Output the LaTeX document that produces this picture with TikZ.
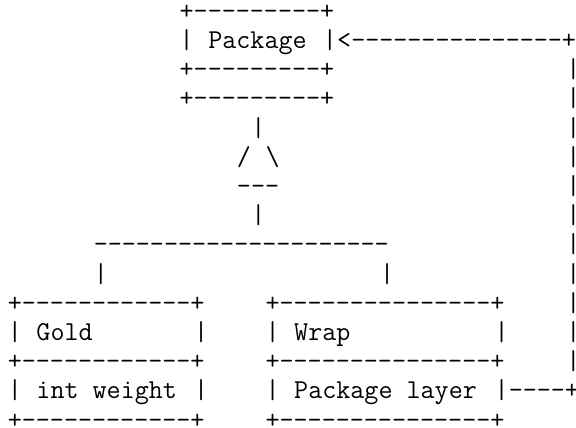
\documentclass[tikz,border=0pt]{standalone}
\usepackage{fontspec}
\begin{document}
\begin{tikzpicture}[x=1pt,y=1pt,
  ascii/.style={anchor=base west, inner sep=0pt, outer sep=0pt,
    font=\ttfamily\fontsize{27.28pt}{29.2pt}\selectfont, text=black}]
% one monospace cell is 14.32 wide, one text row is 29.2 high
\newcommand\glyphs[4]{\node[ascii] (#1) at ({7.84+#2*14.32},{-19.3-#3*29.2}) {#4};}
\useasboundingbox (0,0) rectangle (576,-428);

% Package box (doubled bottom edge)
\glyphs{pkgTop}{12}{0}{+---------+}
\glyphs{pkgLeft}{12}{1}{|}
\glyphs{pkgName}{14}{1}{Package}
\glyphs{pkgRight}{22}{1}{|}
\glyphs{backArrow}{23}{1}{<---------------+}
\glyphs{pkgMid}{12}{2}{+---------+}
\glyphs{pkgBot}{12}{3}{+---------+}

% inheritance triangle
\glyphs{stemA}{17}{4}{|}
\glyphs{triL}{16}{5}{/}
\glyphs{triR}{18}{5}{\textbackslash}
\glyphs{triBase}{16}{6}{---}
\glyphs{stemB}{17}{7}{|}
\glyphs{branch}{6}{8}{---------------------}
\glyphs{dropL}{6}{9}{|}
\glyphs{dropR}{26}{9}{|}

% return line on the right
\foreach \r in {2,...,12} {\glyphs{ret\r}{39}{\r}{|}}

% Gold box
\glyphs{goldTop}{0}{10}{+------------+}
\glyphs{goldL1}{0}{11}{|}
\glyphs{goldName}{2}{11}{Gold}
\glyphs{goldR1}{13}{11}{|}
\glyphs{goldMid}{0}{12}{+------------+}
\glyphs{goldL2}{0}{13}{|}
\glyphs{goldField}{2}{13}{int weight}
\glyphs{goldR2}{13}{13}{|}
\glyphs{goldBot}{0}{14}{+------------+}

% Wrap box
\glyphs{wrapTop}{18}{10}{+---------------+}
\glyphs{wrapL1}{18}{11}{|}
\glyphs{wrapName}{20}{11}{Wrap}
\glyphs{wrapR1}{34}{11}{|}
\glyphs{wrapMid}{18}{12}{+---------------+}
\glyphs{wrapL2}{18}{13}{|}
\glyphs{wrapField}{20}{13}{Package layer}
\glyphs{wrapR2}{34}{13}{|----+}
\glyphs{wrapBot}{18}{14}{+---------------+}
\end{tikzpicture}
\end{document}
